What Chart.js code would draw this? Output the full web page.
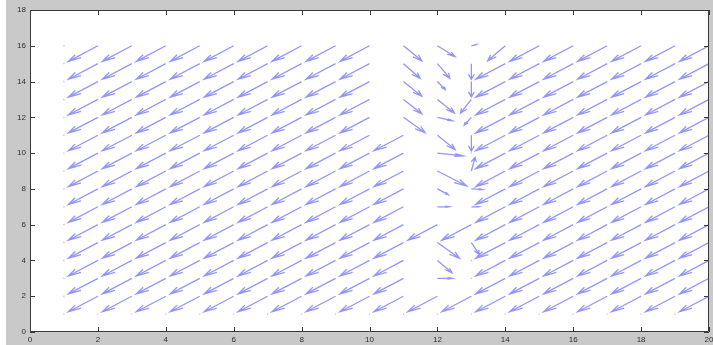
<!DOCTYPE html>
<html>
<head>
<meta charset="utf-8">
<script src="https://cdn.jsdelivr.net/npm/chart.js@4"></script>
<style>
  html, body { margin: 0; padding: 0; background: #fff; }
</style>
</head>
<body>
<canvas id="quiverChart" width="713" height="345"></canvas>
<script>
// grid of arrow tails
const xs = [1, 2, 3, 4, 5, 6, 7, 8, 9, 10, 11, 12, 13, 14, 15, 16, 17, 18, 19, 20];
const ys = [16, 15, 14, 13, 12, 11, 10, 9, 8, 7, 6, 5, 4, 3, 2, 1];

// vector components as drawn (rows follow ys, columns follow xs)
const n = -0.87;
const U = [
    [0, n, n, n, n, n, n, n, n, n, 0.54, 0.52, 0.15, -0.52, n, n, n, n, n, n],
    [0, n, n, n, n, n, n, n, n, n, 0.49, 0.37, 0, n, n, n, n, n, n, n],
    [0, n, n, n, n, n, n, n, n, n, 0.54, 0.23, 0, n, n, n, n, n, n, n],
    [0, n, n, n, n, n, n, n, n, n, 0.54, 0.5, -0.32, n, n, n, n, n, n, n],
    [0, n, n, n, n, n, n, n, n, n, 0.64, 0.44, -0.21, n, n, n, n, n, n, n],
    [0, n, n, n, n, n, n, n, n, n, n, 0.52, 0, n, n, n, n, n, n, n],
    [0, n, n, n, n, n, n, n, n, n, n, 0.76, 0, n, n, n, n, n, n, n],
    [0, n, n, n, n, n, n, n, n, n, n, 0.86, 0.11, n, n, n, n, n, n, n],
    [0, n, n, n, n, n, n, n, n, n, n, 0.32, 0.32, n, n, n, n, n, n, n],
    [0, n, n, n, n, n, n, n, n, n, n, 0.34, 0.22, n, n, n, n, n, n, n],
    [0, n, n, n, n, n, n, n, n, n, n, n, n, n, n, n, n, n, n, n],
    [0, n, n, n, n, n, n, n, n, n, n, 0.65, 0.23, n, n, n, n, n, n, n],
    [0, n, n, n, n, n, n, n, n, n, n, 0.43, 0, n, n, n, n, n, n, n],
    [0, n, n, n, n, n, n, n, n, n, n, 0.44, 0, n, n, n, n, n, n, n],
    [0, n, n, n, n, n, n, n, n, n, n, n, n, n, n, n, n, n, n, n],
    [0, 0, 0, 0, 0, 0, 0, 0, 0, 0, 0, 0, 0, 0, 0, 0, 0, 0, 0, 0],
];
const V = [
    [0, n, n, n, n, n, n, n, n, n, -0.84, -0.61, 0.07, -0.84, n, n, n, n, n, n],
    [0, n, n, n, n, n, n, n, n, n, -0.82, -0.82, -0.88, n, n, n, n, n, n, n],
    [0, n, n, n, n, n, n, n, n, n, -0.82, -0.45, -0.86, n, n, n, n, n, n, n],
    [0, n, n, n, n, n, n, n, n, n, -0.8, -0.76, -0.77, n, n, n, n, n, n, n],
    [0, n, n, n, n, n, n, n, n, n, -0.86, -0.19, -0.43, n, n, n, n, n, n, n],
    [0, n, n, n, n, n, n, n, n, n, n, -0.8, -0.88, n, n, n, n, n, n, n],
    [0, n, n, n, n, n, n, n, n, n, n, -0.15, 0, n, n, n, n, n, n, n],
    [0, n, n, n, n, n, n, n, n, n, n, -0.84, 0.76, n, n, n, n, n, n, n],
    [0, n, n, n, n, n, n, n, n, n, n, -0.32, -0.03, n, n, n, n, n, n, n],
    [0, n, n, n, n, n, n, n, n, n, n, 0, 0, n, n, n, n, n, n, n],
    [0, n, n, n, n, n, n, n, n, n, n, n, n, n, n, n, n, n, n, n],
    [0, n, n, n, n, n, n, n, n, n, n, -0.88, -0.66, n, n, n, n, n, n, n],
    [0, n, n, n, n, n, n, n, n, n, n, -0.69, 0, n, n, n, n, n, n, n],
    [0, n, n, n, n, n, n, n, n, n, n, 0, 0, n, n, n, n, n, n, n],
    [0, n, n, n, n, n, n, n, n, n, n, n, n, n, n, n, n, n, n, n],
    [0, 0, 0, 0, 0, 0, 0, 0, 0, 0, 0, 0, 0, 0, 0, 0, 0, 0, 0, 0],
];

const xTicks = [0, 2, 4, 6, 8, 10, 12, 14, 16, 18, 20];
const yTicks = [0, 2, 4, 6, 8, 10, 12, 14, 16, 18];

// matlab style arrow heads
const alpha = 0.33;
const beta = 0.3;

const arrows = [];
const dots = [];
ys.forEach((y, r) => {
    xs.forEach((x, c) => {
        const u = U[r][c], v = V[r][c];
        if (u === 0 && v === 0) {
            dots.push({ x: x, y: y });
            return;
        }
        const tx = x + u, ty = y + v;
        arrows.push({ x: x, y: y }, { x: tx, y: ty }, { x: tx, y: null });
        arrows.push(
            { x: tx - alpha * (u + beta * v), y: ty - alpha * (v - beta * u) },
            { x: tx, y: ty },
            { x: tx - alpha * (u - beta * v), y: ty - alpha * (v + beta * u) },
            { x: tx, y: null }
        );
    });
});

const frame = {
    id: 'frame',
    beforeDraw(chart) {
        const ctx = chart.ctx;
        const a = chart.chartArea;
        ctx.save();
        ctx.fillStyle = '#ffffff';
        ctx.fillRect(0, 0, chart.width, chart.height);
        ctx.fillStyle = '#c9c9c9';
        ctx.fillRect(6, 0, chart.width - 6, chart.height);
        ctx.fillStyle = '#ffffff';
        ctx.fillRect(a.left, a.top, a.right - a.left, a.bottom - a.top);
        ctx.restore();
    },
    afterDraw(chart) {
        const ctx = chart.ctx;
        const a = chart.chartArea;
        const sx = chart.scales.x, sy = chart.scales.y;
        const len = 5;
        ctx.save();
        ctx.strokeStyle = '#3a3a3a';
        ctx.lineWidth = 1;
        ctx.beginPath();
        ctx.rect(a.left + 0.5, a.top + 0.5, a.right - a.left - 1, a.bottom - a.top - 1);
        sx.ticks.forEach(t => {
            const px = Math.round(sx.getPixelForValue(t.value)) + 0.5;
            ctx.moveTo(px, a.bottom);
            ctx.lineTo(px, a.bottom - len);
            ctx.moveTo(px, a.top);
            ctx.lineTo(px, a.top + len);
        });
        sy.ticks.forEach(t => {
            const py = Math.round(sy.getPixelForValue(t.value)) + 0.5;
            ctx.moveTo(a.left, py);
            ctx.lineTo(a.left + len, py);
            ctx.moveTo(a.right, py);
            ctx.lineTo(a.right - len, py);
        });
        ctx.stroke();
        ctx.restore();
    }
};

const tickFont = { family: 'Liberation Sans', size: 8 };

new Chart(document.getElementById('quiverChart'), {
    type: 'scatter',
    data: {
        datasets: [{
            data: arrows,
            showLine: true,
            spanGaps: false,
            borderColor: 'rgba(60, 60, 255, 0.55)',
            borderWidth: 1.3,
            borderJoinStyle: 'miter',
            pointRadius: 0,
            pointHoverRadius: 0,
        }, {
            data: dots,
            showLine: false,
            pointRadius: 0.7,
            borderWidth: 0,
            backgroundColor: 'rgba(90, 90, 255, 0.5)',
        }],
    },
    options: {
        responsive: false,
        animation: false,
        events: [],
        layout: { padding: { top: 10, right: 1, left: 0, bottom: 0 } },
        plugins: {
            legend: { display: false },
            tooltip: { enabled: false },
        },
        scales: {
            x: {
                type: 'linear',
                min: 0,
                max: 20,
                afterBuildTicks: s => { s.ticks = xTicks.map(v => ({ value: v })); },
                ticks: { autoSkip: false, maxRotation: 0, padding: 3, font: tickFont, color: '#2e2e2e' },
                grid: { display: false, drawTicks: false },
                border: { display: false },
                afterFit: s => { s.height = 13; s.paddingLeft = 0; s.paddingRight = 0; },
            },
            y: {
                type: 'linear',
                min: 0,
                max: 18,
                afterBuildTicks: s => { s.ticks = yTicks.map(v => ({ value: v })); },
                ticks: { padding: 4, font: tickFont, color: '#2e2e2e' },
                grid: { display: false, drawTicks: false },
                border: { display: false },
                afterFit: s => { s.width = 30; },
            },
        },
    },
    plugins: [frame],
});
</script>
</body>
</html>
